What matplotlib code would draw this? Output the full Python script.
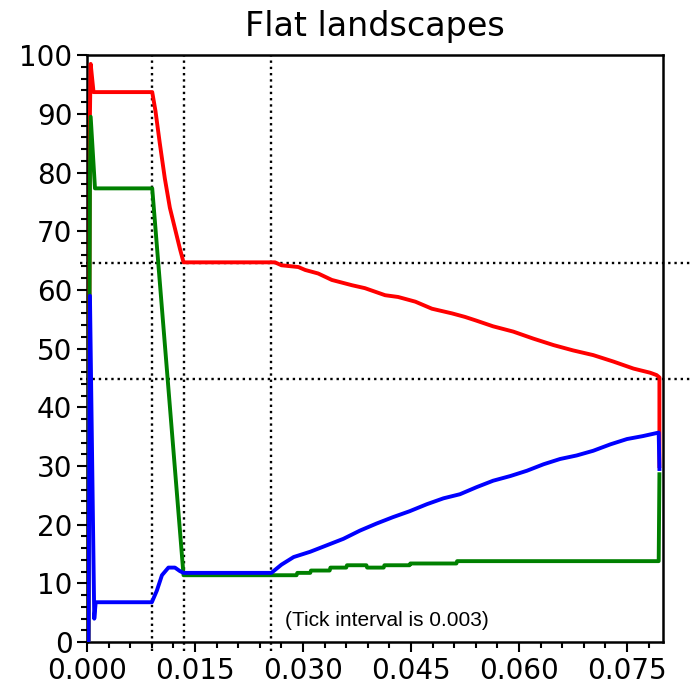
import matplotlib
matplotlib.use("Agg")
import matplotlib.pyplot as plt
from matplotlib.ticker import MultipleLocator, FormatStrFormatter

# ---- data ----
red_x = [0.0002, 0.0004, 0.0005, 0.0009, 0.00905, 0.0095, 0.0101, 0.0108, 0.0115, 0.0122,
         0.0129, 0.0134, 0.0261, 0.0270, 0.02935, 0.0303, 0.0321, 0.0340, 0.0368, 0.0386,
         0.0414, 0.0432, 0.0456, 0.0479, 0.0507, 0.0525, 0.0540, 0.0564, 0.0592,
         0.0620, 0.0648, 0.0675, 0.0703, 0.0731, 0.0759, 0.0782, 0.0791, 0.0795, 0.0795]
red_y = [0.0, 90.0, 98.5, 93.7, 93.7, 90.5, 85.0, 79.0, 74.0, 70.5,
         67.0, 64.7, 64.7, 64.2, 63.9, 63.4, 62.8, 61.7, 60.8, 60.3,
         59.1, 58.8, 58.0, 56.8, 56.0, 55.4, 54.8, 53.8, 52.9,
         51.7, 50.6, 49.7, 48.9, 47.8, 46.6, 45.9, 45.5, 45.1, 30.0]

green_x = [0.0002, 0.0004, 0.0005, 0.0011, 0.00905, 0.0134, 0.0291, 0.0292, 0.0310, 0.0311,
           0.0337, 0.0338, 0.0360, 0.0361, 0.0388, 0.0389, 0.0412, 0.0413, 0.0448, 0.0449,
           0.0513, 0.0514, 0.0794, 0.0795]
green_y = [0.0, 80.0, 89.5, 77.3, 77.3, 11.4, 11.4, 11.8, 11.8, 12.2,
           12.2, 12.7, 12.7, 13.1, 13.1, 12.7, 12.7, 13.1, 13.1, 13.4,
           13.4, 13.8, 13.8, 28.6]

blue_x = [0.0002, 0.0004, 0.0010, 0.0012, 0.0090, 0.0097, 0.0104, 0.0113, 0.0122, 0.0129,
          0.0134, 0.0256, 0.0270, 0.0287, 0.0310, 0.0333, 0.0356, 0.0379, 0.0402, 0.0425,
          0.0448, 0.0472, 0.0495, 0.0518, 0.0541, 0.0564, 0.0588, 0.0611, 0.0634, 0.0657,
          0.0680, 0.0703, 0.0727, 0.0750, 0.0772, 0.0794, 0.0795]
blue_y = [0.0, 59.0, 4.0, 6.8, 6.8, 8.8, 11.4, 12.7, 12.7, 12.1,
          11.8, 11.8, 13.2, 14.5, 15.4, 16.5, 17.6, 19.0, 20.2, 21.3,
          22.3, 23.5, 24.5, 25.2, 26.4, 27.5, 28.3, 29.2, 30.3, 31.2,
          31.8, 32.6, 33.7, 34.6, 35.1, 35.7, 29.5]

vlines_x = [0.00903, 0.01347, 0.02556]
hlines_y = [64.6, 44.9]

title = "Flat landscapes"
note = "(Tick interval is 0.003)"

# ---- figure ----
fig = plt.figure(figsize=(6.91, 6.89), dpi=100)
ax = fig.add_axes([0.126, 0.068, 0.8335, 0.852])

ax.plot(red_x, red_y, color="red", lw=2.8, zorder=3)
ax.plot(green_x, green_y, color="green", lw=2.8, zorder=3)
ax.plot(blue_x, blue_y, color="blue", lw=2.8, zorder=3)

for xv in vlines_x:
    ax.axvline(xv, ymin=-0.015, ymax=1.0, color="black", ls=":", lw=1.7,
               clip_on=False, zorder=2)
for yv in hlines_y:
    ax.axhline(yv, xmin=-0.012, xmax=1.06, color="black", ls=":", lw=1.7,
               clip_on=False, zorder=2)

ax.set_xlim(0, 0.08)
ax.set_ylim(0, 100)
ax.xaxis.set_major_locator(MultipleLocator(0.015))
ax.xaxis.set_minor_locator(MultipleLocator(0.003))
ax.xaxis.set_major_formatter(FormatStrFormatter("%.3f"))
ax.yaxis.set_major_locator(MultipleLocator(10))
ax.yaxis.set_minor_locator(MultipleLocator(2))
ax.tick_params(which="both", direction="out", top=False, right=False, labelsize=20, width=1.5)
ax.tick_params(which="major", length=7)
ax.tick_params(which="minor", length=4)
for s in ax.spines.values():
    s.set_linewidth(1.8)

ax.set_title(title, fontsize=24, pad=14)
ax.text(0.0275, 3.7, note, fontsize=15, family="Liberation Sans", va="center", ha="left")

fig.savefig("out.png", dpi=100)
